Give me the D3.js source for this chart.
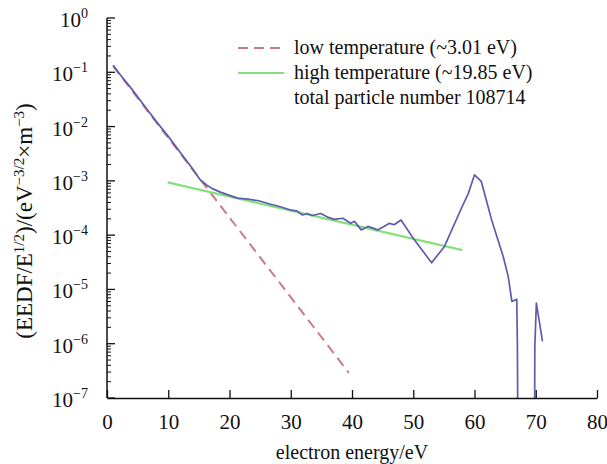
<!DOCTYPE html>
<html>
<head>
<meta charset="utf-8">
<script src="https://cdn.jsdelivr.net/npm/d3@7"></script>
<style>
body{margin:0;background:#fff}
svg{display:block}
svg text{font-family:"Liberation Serif","Times New Roman",serif;fill:#111}
</style>
</head>
<body>
<div id="chart"></div>
<script>
// measured EEDF curve (energy in eV, value in eV^-3/2 m^-3), null = gap
var energy = [1,2,4,6,8,10,12,14,15.2,16.3,17.2,18.5,20,21.3,23,24.8,26.7,28,30,31,31.9,32.7,33.5,34.9,36,37.1,38.5,39.8,40.4,41.5,42.6,44.2,45,46.1,46.9,48,50.2,53,55.1,57.9,59,60,61.1,62.8,64.7,65.5,66.1,66.9,67,67.1,68,69.8,69.85,70.1,71.1]
var eedf = [1.35e-1,9.5e-2,5.0e-2,2.5e-2,1.26e-2,6.6e-3,3.3e-3,1.66e-3,1.05e-3,8.3e-4,7.2e-4,6.2e-4,5.4e-4,4.8e-4,4.6e-4,4.3e-4,3.7e-4,3.4e-4,2.9e-4,2.8e-4,2.35e-4,2.5e-4,2.3e-4,2.5e-4,2.15e-4,1.95e-4,2.05e-4,1.65e-4,1.8e-4,1.25e-4,1.45e-4,1.25e-4,1.4e-4,1.65e-4,1.55e-4,1.9e-4,8.1e-5,3.1e-5,6.2e-5,3.2e-4,5.9e-4,1.29e-3,9.8e-4,1.9e-4,4.0e-5,1.74e-5,6.0e-6,6.6e-6,1e-6,1e-8,null,1e-8,8.9e-7,5.6e-6,1.1e-6]

// maxwellian fits (end points)
var lowTempE = [1,39.5]
var lowTempV = [0.13,2.9e-7]
var highTempE = [9.9,58]
var highTempV = [9.4e-4,5.3e-5]

var legendLabels = ["low temperature (~3.01 eV)","high temperature (~19.85 eV)","total particle number 108714"]
var xTicks = [0,10,20,30,40,50,60,70,80]
var yExponents = [0,-1,-2,-3,-4,-5,-6,-7]

var colors = {curve:"#5d5cae", low:"#c97b86", high:"#84e07c"}

var W = 607, H = 464
var pLeft = 107, pRight = 597, pTop = 18, pBottom = 398
var serif = "'Liberation Serif', 'Times New Roman', serif"

var svg = d3.select("#chart").append("svg").attr("width",W).attr("height",H)

var x = d3.scaleLinear().domain([0,80]).range([pLeft,pRight])
var y = d3.scaleLog().domain([1e-7,1]).range([pBottom,pTop])

svg.append("clipPath").attr("id","clip")
	.append("rect").attr("x",pLeft).attr("y",pTop).attr("width",pRight-pLeft).attr("height",pBottom-pTop)

var line = d3.line()
	.defined(function(d){return d[1]!=null})
	.x(function(d){return x(d[0])})
	.y(function(d){return y(d[1])})

var plot = svg.append("g").attr("clip-path","url(#clip)")

plot.append("path")
	.datum(d3.zip(lowTempE,lowTempV))
	.attr("d",line)
	.attr("fill","none")
	.attr("stroke",colors.low)
	.attr("stroke-width",2)
	.attr("stroke-dasharray","10,6")

plot.append("path")
	.datum(d3.zip(highTempE,highTempV))
	.attr("d",line)
	.attr("fill","none")
	.attr("stroke",colors.high)
	.attr("stroke-width",2.2)

plot.append("path")
	.datum(d3.zip(energy,eedf))
	.attr("d",line)
	.attr("fill","none")
	.attr("stroke",colors.curve)
	.attr("stroke-width",1.7)
	.attr("stroke-linejoin","round")

// x axis, ticks point inward
var xAxis = svg.append("g")
	.attr("transform","translate(0,"+pBottom+")")
	.call(d3.axisBottom(x).tickValues(xTicks).tickSizeInner(-8).tickSizeOuter(0).tickPadding(16))
xAxis.attr("font-family",serif)
xAxis.select(".domain").attr("stroke","#111").attr("stroke-width",1.5)
xAxis.selectAll(".tick line").attr("stroke","#111").attr("stroke-width",1.3)
xAxis.selectAll("text").attr("font-size","21px").style("font-family",serif).attr("fill","#111")

// y axis with minor ticks
var yg = svg.append("g").attr("font-family",serif)
yg.append("line").attr("x1",pLeft).attr("x2",pLeft).attr("y1",pTop).attr("y2",pBottom)
	.attr("stroke","#111").attr("stroke-width",1.5)
var minor = []
yExponents.forEach(function(e){
	if(e>-7){
		for(var m=2;m<=9;m++) minor.push(m*Math.pow(10,e-1))
	}
})
yg.selectAll(".minor").data(minor).enter().append("line")
	.attr("x1",pLeft).attr("x2",pLeft+4)
	.attr("y1",function(d){return y(d)}).attr("y2",function(d){return y(d)})
	.attr("stroke","#111").attr("stroke-width",1)
yg.selectAll(".major").data(yExponents).enter().append("line")
	.attr("x1",pLeft).attr("x2",pLeft+8)
	.attr("y1",function(d){return y(Math.pow(10,d))}).attr("y2",function(d){return y(Math.pow(10,d))})
	.attr("stroke","#111").attr("stroke-width",1.3)

var ylab = yg.selectAll(".ylab").data(yExponents).enter().append("text")
	.attr("x",88)
	.attr("y",function(d){return y(Math.pow(10,d))+9})
	.attr("text-anchor","end")
	.attr("font-size","21px")
	.style("font-family",serif)
ylab.append("tspan").text("10")
ylab.append("tspan").attr("dy",-9).attr("font-size","14px")
	.text(function(d){return d==0?"0":"\u2212"+(-d)})

// axis titles
svg.append("text")
	.attr("x",(pLeft+pRight)/2).attr("y",459)
	.attr("text-anchor","middle")
	.attr("font-size","20px")
	.style("font-family",serif)
	.text("electron energy/eV")

var yt = svg.append("text")
	.attr("transform","translate(32,221) rotate(-90)")
	.attr("text-anchor","middle")
	.attr("font-size","23px")
	.style("font-family",serif)
yt.append("tspan").text("(EEDF/E")
yt.append("tspan").attr("dy",-8).attr("font-size","15px").text("1/2")
yt.append("tspan").attr("dy",8).text(")/(eV")
yt.append("tspan").attr("dy",-8).attr("font-size","15px").text("\u22123/2")
yt.append("tspan").attr("dy",8).text("\u00d7m")
yt.append("tspan").attr("dy",-8).attr("font-size","15px").text("\u22123")
yt.append("tspan").attr("dy",8).text(")")

// legend
var lg = svg.append("g").attr("transform","translate(238,48)").attr("font-family",serif)
lg.append("line").attr("x1",0).attr("x2",46).attr("y1",0).attr("y2",0)
	.attr("stroke",colors.low).attr("stroke-width",2).attr("stroke-dasharray","10,6")
lg.append("line").attr("x1",0).attr("x2",46).attr("y1",25).attr("y2",25)
	.attr("stroke",colors.high).attr("stroke-width",2.2)
lg.selectAll("text").data(legendLabels).enter().append("text")
	.attr("x",56)
	.attr("y",function(d,i){return i*25+6})
	.attr("font-size","20px")
	.style("font-family",serif)
	.text(function(d){return d})
</script>
</body>
</html>
